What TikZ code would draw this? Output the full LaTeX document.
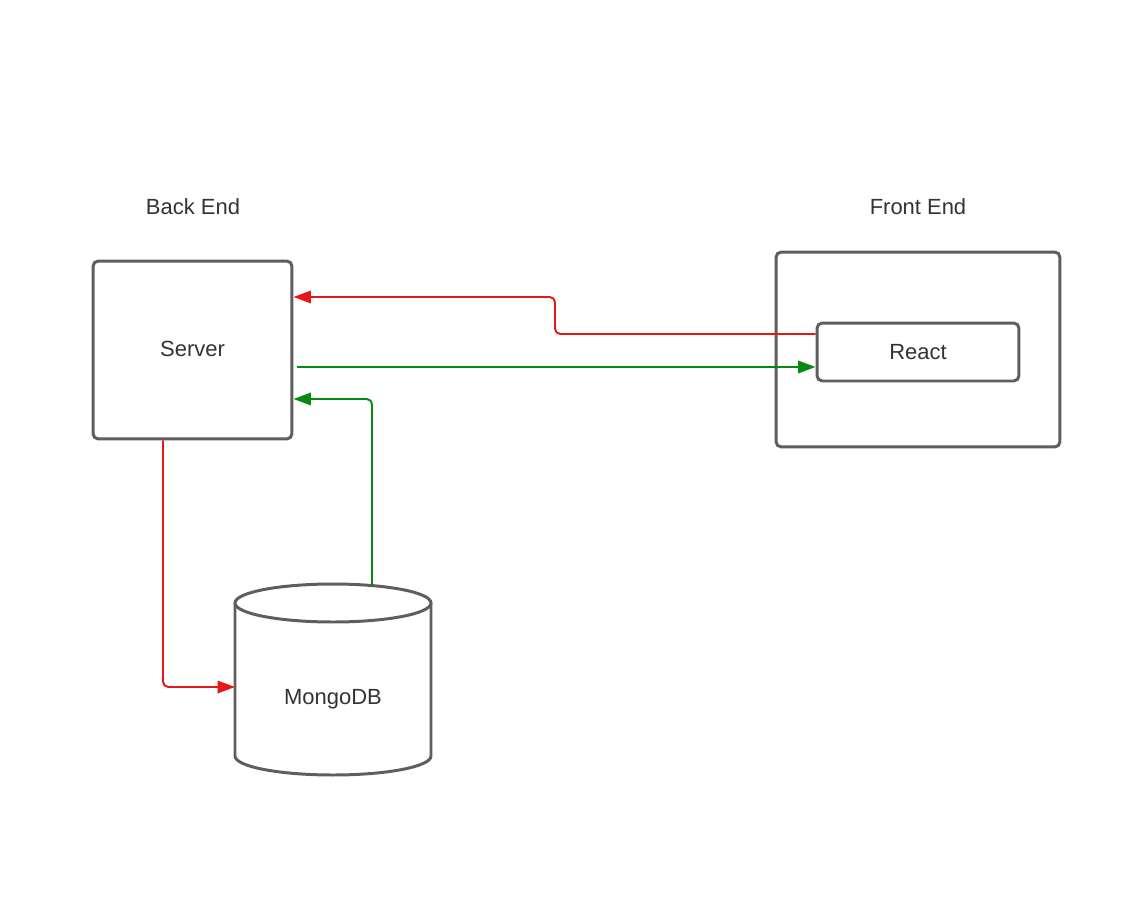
\documentclass[tikz,border=0pt]{standalone}
\usepackage{fontspec}
\setmainfont{Liberation Sans}
\usepackage{tikz}
\usetikzlibrary{
    arrows.meta,
    positioning
}
\definecolor{boxgray}{HTML}{5E5E5E}
\definecolor{textgray}{HTML}{333333}
\definecolor{redline}{HTML}{E81717}
\definecolor{greenline}{HTML}{088A12}

\begin{document}
\begin{tikzpicture}[x=0.02cm, y=0.02cm,
    box/.style={draw=boxgray, line width=1.7pt, rounded corners=3pt, fill=white},
    dbline/.style={draw=boxgray, line width=1.7pt, fill=white},
    lbl/.style={text=textgray, font=\fontsize{12.5}{14}\selectfont},
    redflow/.style={draw=redline, line width=1.1pt, rounded corners=3pt, -{Triangle[length=0.35cm, width=0.25cm]}},
    greenflow/.style={draw=greenline, line width=1.1pt, rounded corners=3pt, -{Triangle[length=0.35cm, width=0.25cm]}}]
                        \useasboundingbox (0,0) rectangle (1146,-919);
                        \node[lbl] (backend) at (193,-207) {Back End};
                        \node[lbl] (frontend) at (918,-207) {Front End};
                        \node[box, lbl, minimum width=3.98cm, minimum height=3.56cm, text depth=0pt, text height=1.3ex] (server) at (192.5,-350) {Server};
                        \node[box, minimum width=5.68cm, minimum height=3.9cm] (client) at (918,-349.5) {};
                        \node[box, lbl, minimum width=4.04cm, minimum height=1.16cm] (react) at (918,-352) {React};

                        \draw[dbline] (235,-603) -- (235,-756) arc[start angle=180, end angle=360, x radius=98, y radius=19] -- (431,-603);
                        \draw[dbline] (333,-603) ellipse[x radius=98, y radius=19];
                        \node[lbl] (mongo) at (333,-699) {MongoDB};
                        \coordinate (dbtop) at (372,-585.6);
                        \coordinate (dbside) at (235,-687);

                        \draw[redflow] ([yshift=0.36cm]react.west) -- (555,-334) -- (555,-297) -- ([yshift=1.06cm]server.east);
                        \draw[greenflow, shorten <=2pt] ([yshift=-0.34cm]server.east) -- ([yshift=-0.34cm]server.east -| react.west);
                        \draw[greenflow] (dbtop) -- (372,-399) -- ([yshift=-0.98cm]server.east);
                        \draw[redflow] ([xshift=-0.59cm]server.south) -- (163,-687) -- (dbside);
                    \end{tikzpicture}
\end{document}
